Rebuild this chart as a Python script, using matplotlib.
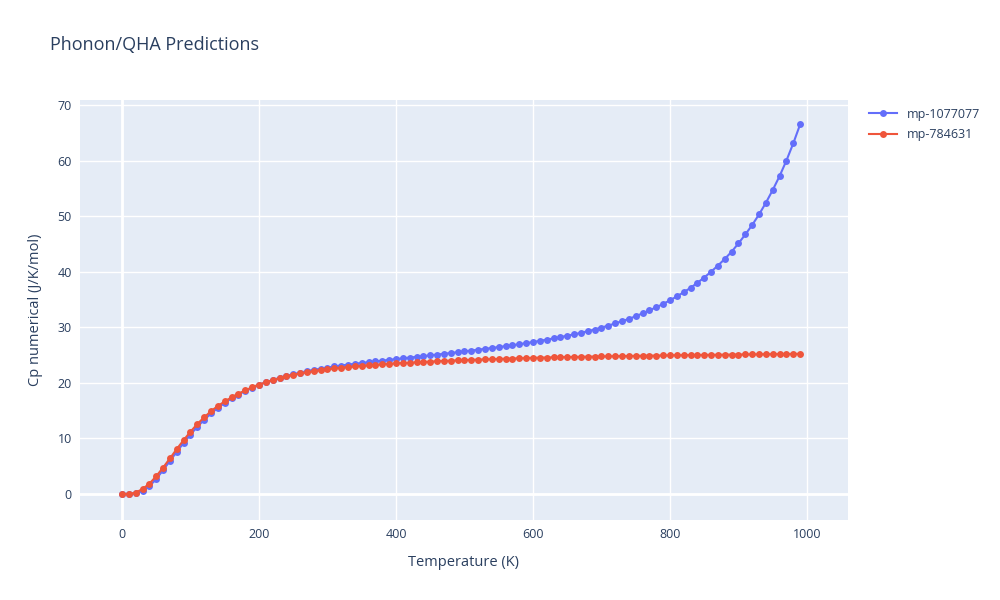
import matplotlib
matplotlib.use('Agg')
import matplotlib.pyplot as plt

# temperatures (K)
temps = list(range(0, 1000, 10))

cp_mp_1077077 = [
    0.0, 0.01, 0.12, 0.55, 1.4, 2.7, 4.3, 5.95, 7.6, 9.2,
    10.7, 12.1, 13.35, 14.5, 15.5, 16.4, 17.2, 17.9, 18.55, 19.1,
    19.65, 20.1, 20.5, 20.9, 21.25, 21.55, 21.85, 22.1, 22.35, 22.55,
    22.75, 22.95, 23.12, 23.28, 23.44, 23.58, 23.72, 23.86, 24.0, 24.14,
    24.28, 24.41, 24.55, 24.68, 24.82, 24.95, 25.09, 25.23, 25.37, 25.52,
    25.67, 25.82, 25.97, 26.12, 26.28, 26.44, 26.61, 26.78, 26.96, 27.15,
    27.35, 27.56, 27.78, 28.0, 28.24, 28.48, 28.73, 29.0, 29.3, 29.6,
    29.95, 30.3, 30.7, 31.1, 31.5, 32.0, 32.5, 33.05, 33.6, 34.2,
    34.85, 35.55, 36.3, 37.1, 38.0, 38.95, 40.0, 41.1, 42.3, 43.6,
    45.1, 46.7, 48.4, 50.3, 52.4, 54.7, 57.2, 60.0, 63.1, 66.5,
]

cp_mp_784631 = [
    0.0, 0.02, 0.25, 0.9, 1.85, 3.2, 4.75, 6.4, 8.1, 9.7,
    11.2, 12.6, 13.8, 14.9, 15.85, 16.65, 17.4, 18.05, 18.65, 19.2,
    19.7, 20.1, 20.5, 20.85, 21.15, 21.45, 21.7, 21.9, 22.1, 22.3,
    22.45, 22.6, 22.72, 22.84, 22.95, 23.05, 23.15, 23.24, 23.33, 23.42,
    23.5, 23.57, 23.64, 23.7, 23.76, 23.82, 23.88, 23.94, 24.0, 24.05,
    24.1, 24.14, 24.18, 24.22, 24.26, 24.3, 24.34, 24.38, 24.42, 24.46,
    24.5, 24.53, 24.56, 24.59, 24.62, 24.64, 24.66, 24.68, 24.71, 24.73,
    24.75, 24.77, 24.79, 24.81, 24.83, 24.85, 24.87, 24.89, 24.91, 24.93,
    24.95, 24.97, 24.98, 25.0, 25.01, 25.03, 25.04, 25.05, 25.07, 25.08,
    25.1, 25.11, 25.12, 25.13, 25.15, 25.16, 25.17, 25.19, 25.2, 25.22,
]

series_names = ['mp-1077077', 'mp-784631']
series_colors = ['#636efa', '#EF553B']

plt.rcParams['font.family'] = ['Open Sans', 'DejaVu Sans']
text_color = '#2a3f5f'

fig = plt.figure(figsize=(10, 6), dpi=100)
ax = fig.add_axes([0.08, 1 - 520 / 600, 0.768, 420 / 600])
ax.set_facecolor('#E5ECF6')

for name, vals, color in zip(series_names, [cp_mp_1077077, cp_mp_784631], series_colors):
    ax.plot(temps, vals, color=color, linewidth=1.5, marker='o', markersize=5,
            markeredgewidth=0, label=name, zorder=3)

ax.set_xlim(-61.3, 1059.9)
ax.set_ylim(-4.68, 70.9)
ax.set_xticks([0, 200, 400, 600, 800, 1000])
ax.set_yticks([0, 10, 20, 30, 40, 50, 60, 70])
ax.grid(True, color='white', linewidth=1)
ax.set_axisbelow(True)
ax.axhline(0, color='white', linewidth=2, zorder=1)
ax.axvline(0, color='white', linewidth=2, zorder=1)
for s in ax.spines.values():
    s.set_visible(False)
ax.tick_params(length=0, labelsize=9, labelcolor=text_color, pad=6)

ax.set_xlabel('Temperature (K)', fontsize=10.5, color=text_color, labelpad=10)
ax.set_ylabel('Cp numerical (J/K/mol)', fontsize=10.5, color=text_color, labelpad=10)

fig.text(0.05, 1 - 45 / 600, 'Phonon/QHA Predictions', fontsize=13, color=text_color,
         va='center', ha='left')

leg = ax.legend(loc='upper left', bbox_to_anchor=(1.018, 1.0), frameon=False,
                fontsize=9, labelcolor=text_color, handlelength=2.2,
                borderaxespad=0.2, labelspacing=0.6)

fig.savefig('out.png', dpi=100)
plt.close(fig)
